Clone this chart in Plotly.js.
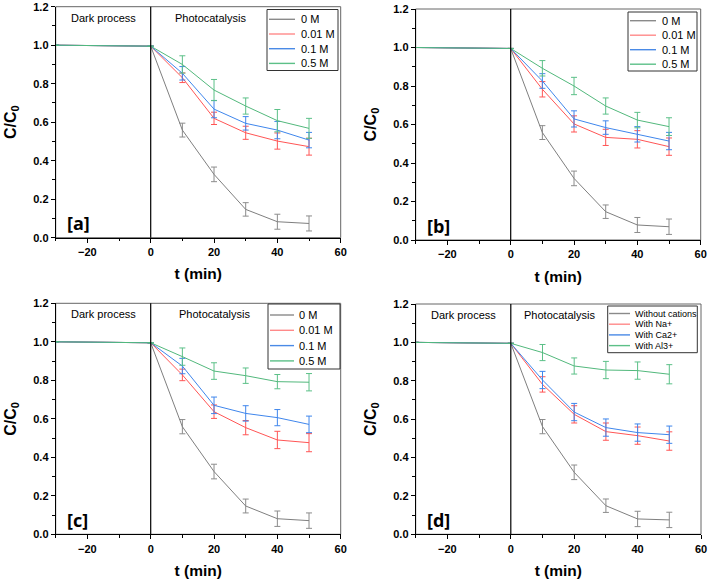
<!DOCTYPE html>
<html>
<head>
<meta charset="utf-8">
<script src="https://cdn.plot.ly/plotly-3.0.1.min.js"></script>
<style>html,body{margin:0;padding:0;background:#fff}#chart{width:709px;height:581px}</style>
</head>
<body>
<div id="chart"></div>
<script>
// ---- data ----
const times = [-30, 0, 10, 20, 30, 40, 50];
const phaseBoundary = 0;
const panelLabels = ['[a]', '[b]', '[c]', '[d]'];
const namesConc = ['0 M', '0.01 M', '0.1 M', '0.5 M'];
const namesCation = ['Without cations', 'With Na+', 'With Ca2+', 'With Al3+'];

// panel a
const a_0M   = [1.0, 0.995, 0.559, 0.329, 0.147, 0.083, 0.074];
const a_001M = [1.0, 0.995, 0.831, 0.620, 0.545, 0.502, 0.473];
const a_01M  = [1.0, 0.995, 0.854, 0.668, 0.594, 0.559, 0.507];
const a_05M  = [1.0, 0.995, 0.900, 0.767, 0.684, 0.608, 0.568];
const a_err0   = [0, 0, 0.036, 0.038, 0.035, 0.039, 0.039];
const a_err001 = [0, 0, 0.025, 0.032, 0.034, 0.042, 0.044];
const a_err01  = [0, 0, 0.035, 0.045, 0.035, 0.045, 0.040];
const a_err05  = [0, 0, 0.045, 0.055, 0.042, 0.058, 0.052];

// panel b
const b_0M   = [1.0, 0.995, 0.558, 0.320, 0.147, 0.078, 0.069];
const b_001M = [1.0, 0.995, 0.783, 0.603, 0.533, 0.523, 0.485];
const b_01M  = [1.0, 0.995, 0.826, 0.629, 0.584, 0.549, 0.514];
const b_05M  = [1.0, 0.995, 0.892, 0.800, 0.696, 0.623, 0.589];
const b_err0   = [0, 0, 0.036, 0.038, 0.035, 0.039, 0.040];
const b_err001 = [0, 0, 0.040, 0.042, 0.042, 0.045, 0.045];
const b_err01  = [0, 0, 0.038, 0.042, 0.035, 0.040, 0.045];
const b_err05  = [0, 0, 0.040, 0.045, 0.042, 0.040, 0.046];

// panel c
const c_0M   = [1.0, 0.995, 0.559, 0.326, 0.147, 0.081, 0.071];
const c_001M = [1.0, 0.995, 0.828, 0.637, 0.554, 0.490, 0.476];
const c_01M  = [1.0, 0.995, 0.874, 0.670, 0.628, 0.606, 0.571];
const c_05M  = [1.0, 0.995, 0.923, 0.848, 0.824, 0.793, 0.790];
const c_err0   = [0, 0, 0.037, 0.038, 0.036, 0.040, 0.040];
const c_err001 = [0, 0, 0.030, 0.035, 0.037, 0.045, 0.047];
const c_err01  = [0, 0, 0.040, 0.043, 0.040, 0.042, 0.043];
const c_err05  = [0, 0, 0.045, 0.043, 0.040, 0.037, 0.045];

// panel d
const d_none = [1.0, 0.995, 0.561, 0.323, 0.149, 0.080, 0.075];
const d_na   = [1.0, 0.995, 0.781, 0.625, 0.535, 0.514, 0.486];
const d_ca   = [1.0, 0.995, 0.804, 0.637, 0.556, 0.530, 0.519];
const d_al   = [1.0, 0.995, 0.947, 0.877, 0.856, 0.853, 0.834];
const d_errNone = [0, 0, 0.037, 0.038, 0.035, 0.040, 0.040];
const d_errNa   = [0, 0, 0.040, 0.045, 0.045, 0.045, 0.048];
const d_errCa   = [0, 0, 0.045, 0.045, 0.045, 0.045, 0.045];
const d_errAl   = [0, 0, 0.042, 0.042, 0.045, 0.045, 0.050];

const xRange = [-30, 60];
const yRange = [0, 1.2];

// ---- styling ----
const lineColors = ['#7f7f7f', '#ff5555', '#3f86ec', '#52b87c'];
const errColors  = ['#8c8c8c', '#ff5555', '#3f86ec', '#5cc088'];
const legendLineColors = ['#8a8a8a', '#ff8a8a', '#4a8ae6', '#5cc088'];

const panels = [
  {series: [a_0M, a_001M, a_01M, a_05M], errs: [a_err0, a_err001, a_err01, a_err05], names: namesConc},
  {series: [b_0M, b_001M, b_01M, b_05M], errs: [b_err0, b_err001, b_err01, b_err05], names: namesConc},
  {series: [c_0M, c_001M, c_01M, c_05M], errs: [c_err0, c_err001, c_err01, c_err05], names: namesConc},
  {series: [d_none, d_na, d_ca, d_al], errs: [d_errNone, d_errNa, d_errCa, d_errAl], names: namesCation}
];

const W = 709, H = 581;
// plot area pixel boxes [left, right, top, bottom]
const boxes = [
  [55.7, 340.7, 6.7, 237.7],
  [415.7, 700.7, 9, 240],
  [55.7, 340.7, 303.3, 534.3],
  [415.7, 701.0, 304, 534.3]
];
// legend boxes (pixels): box [l, r, t, b], line [x0, x1], text x, first item y, item step, font size
const legendSpec = [
  {box: [267, 338, 9.5, 70.5], line: [269, 295], tx: 299, y0: 19.3, dy: 14.7, fs: 11},
  {box: [628, 697, 12, 71], line: [630, 656], tx: 659.5, y0: 20.7, dy: 14.5, fs: 11},
  {box: [268, 340, 304, 369], line: [270, 294], tx: 297, y0: 315, dy: 15.3, fs: 11},
  {box: [607.7, 697.3, 306, 352.7], line: [609, 630], tx: 632.5, y0: 313.5, dy: 10.7, fs: 9}
];
const showPhaseText = [true, false, true, true];
const photoX = [19, 0, 20, 15.5];

const px = v => v / W, py = v => 1 - v / H;

const traces = [];
const layout = {
  width: W, height: H,
  margin: {l: 0, r: 0, t: 0, b: 0},
  paper_bgcolor: '#fff', plot_bgcolor: '#fff',
  showlegend: false,
  font: {family: 'Liberation Sans, Arial, sans-serif', color: '#000'},
  shapes: [], annotations: []
};

panels.forEach((p, i) => {
  const k = i + 1;
  const xa = 'xaxis' + (k === 1 ? '' : k), ya = 'yaxis' + (k === 1 ? '' : k);
  const xr = 'x' + (k === 1 ? '' : k), yr = 'y' + (k === 1 ? '' : k);
  const b = boxes[i];
  p.series.forEach((s, j) => {
    traces.push({
      type: 'scatter', mode: 'lines', x: times, y: s, name: p.names[j],
      xaxis: xr, yaxis: yr,
      line: {color: lineColors[j], width: 1},
      error_y: {type: 'data', array: p.errs[j], visible: true, color: errColors[j], thickness: 1, width: 3}
    });
  });
  layout[xa] = {
    domain: [px(b[0]), px(b[1])], anchor: yr, range: xRange,
    tick0: 0, dtick: 20, ticks: 'outside', ticklen: 4, tickwidth: 1, tickcolor: '#000',
    minor: {dtick: 10, ticks: 'outside', ticklen: 2.5, tickcolor: '#000'},
    showline: true, linecolor: '#000', linewidth: 1, showgrid: false, zeroline: false,
    tickfont: {size: 11, weight: 'bold'},
    title: {text: 't (min)', font: {size: 15.5, weight: 'bold'}, standoff: 11}
  };
  layout[ya] = {
    domain: [py(b[3]), py(b[2])], anchor: xr, range: yRange,
    tick0: 0, dtick: 0.2, tickformat: '.1f', ticks: 'outside', ticklen: 4, tickwidth: 1, tickcolor: '#000',
    minor: {dtick: 0.1, ticks: 'outside', ticklen: 2.5, tickcolor: '#000'},
    showline: true, linecolor: '#000', linewidth: 1, showgrid: false, zeroline: false,
    tickfont: {size: 11, weight: 'bold'},
    title: {text: 'C/C<sub>0</sub>', font: {size: 16, weight: 'bold'}, standoff: 12}
  };
  // gray frame for top/right
  layout.shapes.push({type: 'rect', xref: xr + ' domain', yref: yr + ' domain', x0: 0, x1: 1, y0: 0, y1: 1,
    line: {color: '#666', width: 1}, layer: 'below'});
  // phase boundary
  layout.shapes.push({type: 'line', xref: xr, yref: yr + ' domain', x0: phaseBoundary, x1: phaseBoundary, y0: 0, y1: 1,
    line: {color: '#000', width: 1.2}});
  if (showPhaseText[i]) {
    layout.annotations.push({text: 'Dark process', xref: xr, yref: yr + ' domain', x: -15, y: 0.952,
      showarrow: false, xanchor: 'center', yanchor: 'middle', font: {size: 11}});
    layout.annotations.push({text: 'Photocatalysis', xref: xr, yref: yr + ' domain', x: photoX[i], y: 0.952,
      showarrow: false, xanchor: 'center', yanchor: 'middle', font: {size: 11}});
  }
  layout.annotations.push({text: panelLabels[i], xref: xr + ' domain', yref: yr + ' domain', x: 0.033, y: 0.062,
    showarrow: false, xanchor: 'left', yanchor: 'middle', font: {size: 18, weight: 'bold', family: 'Open Sans, sans-serif'}});

  // legend box
  const L = legendSpec[i];
  layout.shapes.push({type: 'rect', xref: 'paper', yref: 'paper', x0: px(L.box[0]), x1: px(L.box[1]),
    y0: py(L.box[3]), y1: py(L.box[2]), line: {color: '#333', width: 1}, fillcolor: '#fff', layer: 'above'});
  p.names.forEach((nm, j) => {
    const yy = L.y0 + j * L.dy;
    layout.shapes.push({type: 'line', xref: 'paper', yref: 'paper', x0: px(L.line[0]), x1: px(L.line[1]),
      y0: py(yy), y1: py(yy), line: {color: legendLineColors[j], width: 1.4}, layer: 'above'});
    layout.annotations.push({text: nm, xref: 'paper', yref: 'paper', x: px(L.tx), y: py(yy),
      showarrow: false, xanchor: 'left', yanchor: 'middle', font: {size: L.fs}});
  });
});

Plotly.newPlot('chart', traces, layout, {staticPlot: true});
</script>
</body>
</html>
